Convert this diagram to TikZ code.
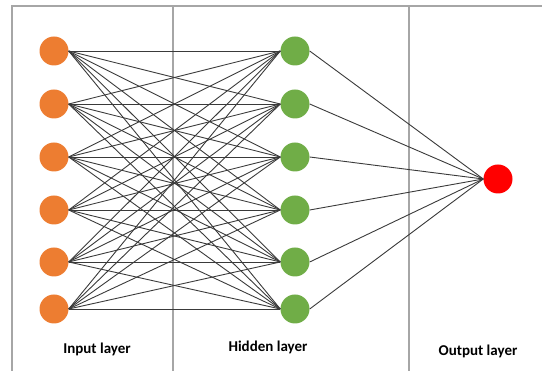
\documentclass[tikz,border=0pt]{standalone}
\usepackage{fontspec}
\setmainfont{Carlito}
\usetikzlibrary{positioning}

\definecolor{laranja}{HTML}{ED7D31}
\definecolor{verde}{HTML}{70AD47}
\definecolor{moldura}{HTML}{A6A6A6}
\definecolor{ligacao}{HTML}{3A3A3A}

\begin{document}
\begin{tikzpicture}[
  x=1pt, y=-1pt,
  font=\bfseries\fontsize{15}{17}\selectfont,
  entrada/.style={circle, fill=laranja, minimum size=29pt, inner sep=0pt},
  oculto/.style={circle, fill=verde, minimum size=29pt, inner sep=0pt},
  saida/.style={circle, fill=red, minimum size=29pt, inner sep=0pt},
  ligacao/.style={draw=ligacao, line width=0.9pt},
  divisor/.style={draw=moldura, line width=1.3pt},
  rotulo/.style={inner sep=0pt, anchor=base},
]
\useasboundingbox (0,0) rectangle (542,371);

% ---- Moldura e divisores --------------------------------------------------
\coordinate (tl) at (12,6);
\coordinate (tr) at (542,6);
\draw[divisor] (tr) -- (tl) -- (12,371);
\draw[divisor] (173,6) -- (173,371);
\draw[divisor] (409,6) -- (409,371);

% ---- Camadas ---------------------------------------------------------------
\foreach \i/\y in {1/51,2/104,3/157,4/210,5/262,6/309} {
  \node[entrada] (in\i)  at (54,\y)  {};
  \node[oculto]  (hid\i) at (295,\y) {};
}
\node[saida] (out) at (498,179) {};

% ---- Ligacoes --------------------------------------------------------------
\foreach \i in {1,...,6} {
  \foreach \j in {1,...,6} {
    \draw[ligacao] (in\i.east) -- (hid\j.west);
  }
  \draw[ligacao] (hid\i.east) -- (out.west);
}

% ---- Rotulos ---------------------------------------------------------------
\node[rotulo] (lin)  at (97,354)  {Input layer};
\node[rotulo] (lhid) at (268,352) {Hidden layer};
\node[rotulo] (lout) at (478,356) {Output layer};

\end{tikzpicture}
\end{document}
